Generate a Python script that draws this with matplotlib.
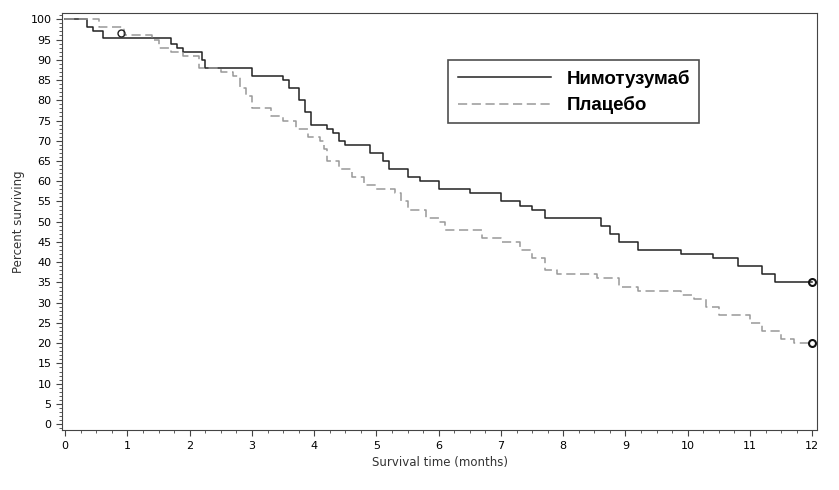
import matplotlib.pyplot as plt
from matplotlib.ticker import MultipleLocator

# step-change times (months) and survival (%)
nimo_t = [0, 0.35, 0.45, 0.6, 1.7, 1.8, 1.9, 2.2, 2.25, 3.0, 3.4, 3.5, 3.6, 3.75, 3.85, 3.95,
          4.2, 4.3, 4.4, 4.5, 4.9, 5.1, 5.2, 5.5, 5.7, 6.0, 6.5, 7.0, 7.3, 7.5, 7.7, 8.6,
          8.75, 8.9, 9.2, 9.9, 10.4, 10.8, 11.2, 11.4, 12.0]
nimo_s = [100, 98, 97, 95.5, 94, 93, 92, 90, 88, 86, 86, 85, 83, 80, 77, 74,
          73, 72, 70, 69, 67, 65, 63, 61, 60, 58, 57, 55, 54, 53, 51, 49,
          47, 45, 43, 42, 41, 39, 37, 35, 35]
plac_t = [0, 0.55, 0.95, 1.4, 1.5, 1.7, 1.9, 2.15, 2.5, 2.7, 2.8, 2.9, 3.0, 3.3, 3.5, 3.7,
          3.9, 4.1, 4.15, 4.2, 4.4, 4.6, 4.8, 5.0, 5.3, 5.4, 5.5, 5.8, 6.0, 6.1, 6.7, 7.0,
          7.3, 7.5, 7.7, 7.9, 8.55, 8.9, 9.2, 9.9, 10.1, 10.3, 10.5, 11.0, 11.2, 11.5, 11.7, 12.0]
plac_s = [100, 98, 96, 95, 93, 92, 91, 88, 87, 86, 83, 81, 78, 76, 75, 73,
          71, 70, 68, 65, 63, 61, 59, 58, 57, 55, 53, 51, 50, 48, 46, 45,
          43, 41, 38, 37, 36, 34, 33, 32, 31, 29, 27, 25, 23, 21, 20, 20]

fig, ax = plt.subplots(figsize=(8.39, 4.9), dpi=100)
fig.subplots_adjust(left=0.074, right=0.974, top=0.973, bottom=0.122)

ax.step(nimo_t, nimo_s, where='post', color='#222222', lw=1.1, label='Нимотузумаб')
ax.step(plac_t, plac_s, where='post', color='#999999', lw=1.1, ls=(0, (6, 3)), label='Плацебо')
ax.plot([0.9], [96.5], 'o', mfc='none', mec='#222222', ms=5)
ax.plot([12, 12], [35, 20], 'o', mfc='none', mec='#111111', ms=5, mew=1.5)

ax.set_xlim(-0.05, 12.08)
ax.set_ylim(-1.5, 101.5)
ax.set_xticks(range(13))
ax.set_yticks(range(0, 101, 5))
ax.xaxis.set_minor_locator(MultipleLocator(0.25))
ax.yaxis.set_minor_locator(MultipleLocator(1))
ax.tick_params(labelsize=8, length=4, color='#444444')
ax.tick_params(which='minor', length=2, color='#444444')
ax.set_xlabel('Survival time (months)', fontsize=8.5, color='#333333')
ax.set_ylabel('Percent surviving', fontsize=8.5, color='#333333')
for s in ax.spines.values():
    s.set_color('#444444')

leg = ax.legend(loc='upper left', bbox_to_anchor=(0.499, 0.91), fancybox=False,
                edgecolor='#222222', handlelength=5, borderpad=0.5, labelspacing=0.45,
                prop={'family': 'Liberation Sans', 'weight': 'bold', 'size': 13.5})
leg.get_frame().set_linewidth(1.2)

fig.savefig('out.png')
